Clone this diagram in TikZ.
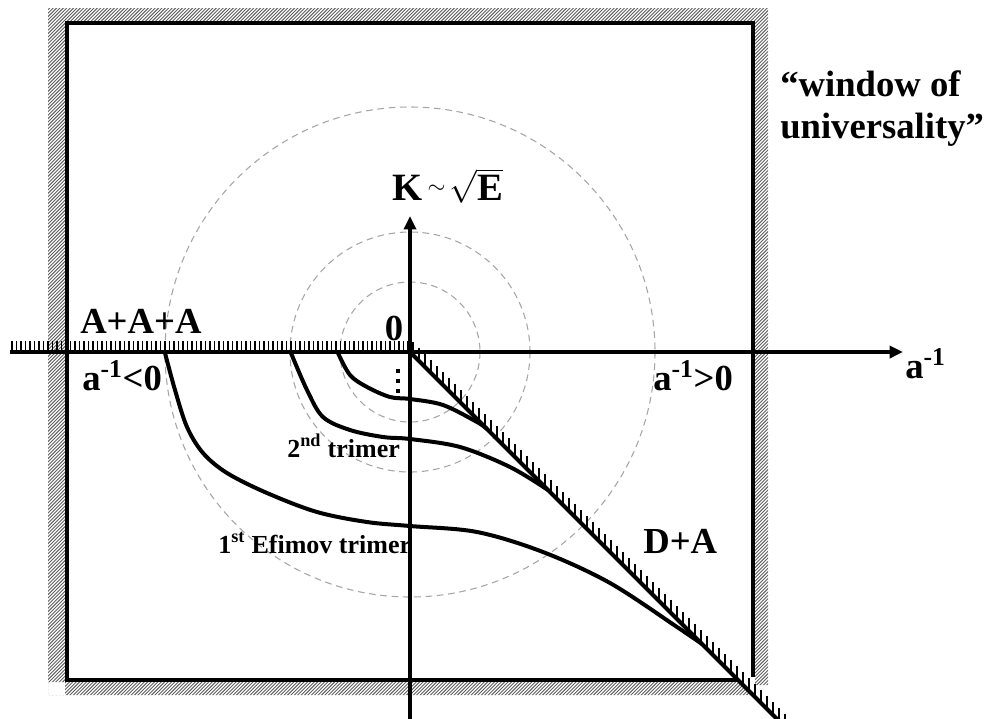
\documentclass[tikz,border=0pt]{standalone}
\usepackage{fontspec}
\setmainfont{Liberation Serif}
\usetikzlibrary{arrows.meta}
\begin{document}
\begin{tikzpicture}[x=0.75pt,y=-0.75pt,
  biglbl/.style={font=\fontsize{27.5}{30}\selectfont\bfseries, inner sep=0pt, anchor=base west},
  smalllbl/.style={font=\fontsize{19.5}{22}\selectfont\bfseries, inner sep=0pt, anchor=base west},
  axisline/.style={line width=3pt},
  curveline/.style={line width=3pt},
  boxline/.style={line width=3.6pt, line join=miter},
  tickline/.style={line width=1.2pt},
  hatchline/.style={line width=0.7pt, black!62},
  dashcirc/.style={line width=0.8pt, black!35, dash pattern=on 5pt off 3.5pt}]
\useasboundingbox (0,0) rectangle (984,718);
\clip (0,0) rectangle (984,718);
\fill[white] (0,0) rectangle (984,718);
\coordinate (O) at (410,352);

% hatched frame
\begin{scope}
\clip (48,8) rectangle (768,22)
      (48,8) rectangle (65,695)
      (755,8) rectangle (768,685)
      (48,682) -- (740,682) -- (753,695) -- (48,695) -- cycle;
\foreach \i in {-720,-716.6,...,1000} \draw[hatchline] (\i,720) -- ++(720,-720);
\end{scope}
\draw[boxline] (753,677) -- (753,23) -- (67,23) -- (67,680) -- (737,680);

% dashed circles
\draw[dashcirc] (O) circle[radius=70];
\draw[dashcirc] (O) circle[radius=120];
\draw[dashcirc] (O) circle[radius=245];

% ticks on negative axis
\foreach \x in {12,16.5,...,410} \draw[tickline] (\x,352) -- (\x,341);
% ticks on diagonal
\foreach \t in {3,9,...,390} \draw[tickline] ({410+\t},{352+\t}) -- ++(0,-13);

% axes
\coordinate (xs) at (10,352);
\coordinate (xe) at (903,352);
\coordinate (ys) at (410,720);
\coordinate (ye) at (410,216);
\draw[axisline,-{Triangle[length=10pt,width=9pt]}] (xs) -- (xe);
\draw[axisline,-{Triangle[length=10pt,width=9pt]}] (ys) -- (ye);
\coordinate (de) at (795,737);
\draw[axisline] (O) -- (de);

% trimer curves
\draw[curveline] plot[smooth,tension=0.55] coordinates {(165,353) (175,390) (187,427) (203,453) (227,473) (267,493) (317,512) (367,522) (410,526) (477,532) (543,552) (610,583) (677,627) (702,644)};
\draw[curveline] plot[smooth,tension=0.55] coordinates {(291,353) (307,390) (323,417) (350,430) (383,437) (410,439) (460,447) (510,467) (548,490)};
\draw[curveline] plot[smooth,tension=0.55] coordinates {(338,353) (350,375) (367,387) (390,397) (410,399) (443,405) (477,422) (487,429)};

% dots
\foreach \y in {369,379,389} \fill (396,\y) rectangle (400,{\y+4});

% labels
\node[biglbl] (aaa) at (80,333) {A+A+A};
\node[biglbl] (neg) at (82,390) {a\textsuperscript{-1}<0};
\node[biglbl, anchor=base] (zero) at (394,340) {0};
\node[biglbl] (pos) at (653,390) {a\textsuperscript{-1}>0};
\node[biglbl] (ainv) at (905,378) {a\textsuperscript{-1}};
\node[biglbl] (da) at (643,553) {D+A};
\node[biglbl, font=\fontsize{29}{32}\selectfont\bfseries] (kl) at (392,200) {K\hspace{4pt}\raisebox{5pt}{\fontsize{17}{17}\selectfont$\sim$}\hspace{3pt}$\sqrt{\mbox{\bfseries E}}$};
\node[biglbl, font=\fontsize{27.5}{30}\selectfont\bfseries] (w1) at (780,96) {“window of};
\node[biglbl, font=\fontsize{27.5}{30}\selectfont\bfseries] (w2) at (780,138) {universality”};
\node[smalllbl] (t2) at (287,457) {2\textsuperscript{nd} trimer};
\node[smalllbl] (t1) at (218,553) {1\textsuperscript{st} Efimov trimer};
\end{tikzpicture}
\end{document}
